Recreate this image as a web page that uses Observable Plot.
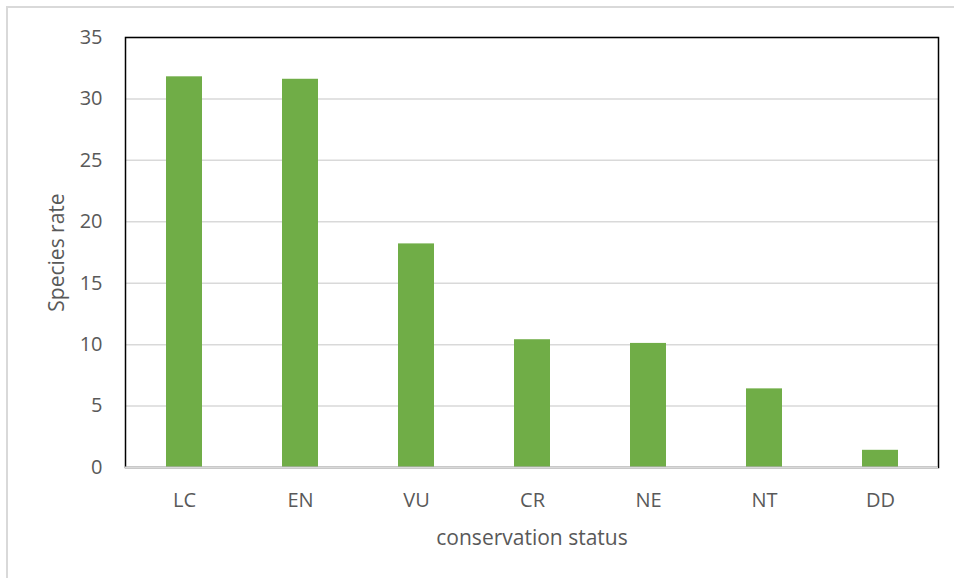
<!DOCTYPE html>
<html>
<head>
<meta charset="utf-8">
<script src="https://cdn.jsdelivr.net/npm/d3@7"></script>
<script src="https://cdn.jsdelivr.net/npm/@observablehq/plot@0.6"></script>
<style>
  html, body { margin: 0; padding: 0; background: #fff; }
  #wrap { position: relative; width: 954px; height: 578px; overflow: hidden; background: #fff; }
  #border { position: absolute; left: 6px; top: 6px; width: 2000px; height: 2000px;
            border-left: 2px solid #d9d9d9; border-top: 2px solid #d9d9d9; }
  #chart { position: absolute; left: 0; top: 0; }
</style>
</head>
<body>
<div id="wrap">
  <div id="border"></div>
  <div id="chart"></div>
</div>
<script>
// Species rate by IUCN conservation status
const categories = ["LC", "EN", "VU", "CR", "NE", "NT", "DD"];
const rates = [31.8, 31.6, 18.2, 10.4, 10.1, 6.4, 1.4];
const yTicks = [0, 5, 10, 15, 20, 25, 30, 35];
const xTitle = "conservation status";
const yTitle = "Species rate";

const data = categories.map((status, i) => ({status, rate: rates[i]}));

const ink = "#595959";
const grid = "#d9d9d9";
const green = "#70ad47";

const chart = Plot.plot({
  width: 954,
  height: 578,
  marginLeft: 125,
  marginRight: 16,
  marginTop: 37,
  marginBottom: 111,
  style: {
    fontFamily: "'Open Sans', sans-serif",
    fontSize: "20px",
    color: ink,
    background: "transparent"
  },
  x: {domain: categories, paddingInner: 0.69, paddingOuter: 0.345, label: null},
  y: {domain: [0, 35], label: null},
  marks: [
    Plot.gridY(yTicks, {stroke: grid, strokeOpacity: 1, strokeWidth: 1.5}),
    Plot.barY(data, {x: "status", y: "rate", fill: green}),
    Plot.frame({stroke: "#000", strokeWidth: 1.5}),
    Plot.ruleY([0], {stroke: grid, strokeWidth: 2}),
    Plot.axisY(yTicks, {tickSize: 0, tickPadding: 23, label: null}),
    Plot.axisX({tickSize: 0, tickPadding: 25, label: null}),
    Plot.text([yTitle], {
      frameAnchor: "left", dx: -68, rotate: -90,
      textAnchor: "middle", lineAnchor: "middle", fontSize: 21, fill: ink
    }),
    Plot.text([xTitle], {
      frameAnchor: "bottom", dy: 71,
      textAnchor: "middle", lineAnchor: "middle", fontSize: 21, fill: ink
    })
  ]
});

document.getElementById("chart").appendChild(chart);
</script>
</body>
</html>
